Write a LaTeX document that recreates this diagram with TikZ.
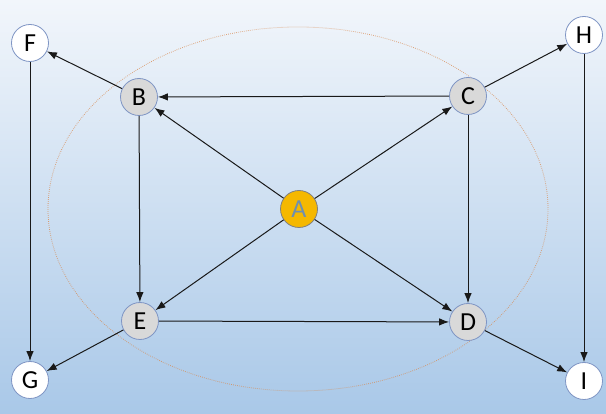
\documentclass[tikz,border=0pt]{standalone}
\usepackage{fontspec}
\setmainfont{Carlito}
\usetikzlibrary{arrows.meta}
\definecolor{bgtop}{HTML}{F2F6FB}
\definecolor{bgbot}{HTML}{A9C8E8}
\definecolor{nodeedge}{HTML}{7F95C4}
\definecolor{grayfill}{HTML}{D9D9D9}
\definecolor{gold}{HTML}{F5B800}
\definecolor{atext}{HTML}{6F8FB0}
\definecolor{ring}{HTML}{D98A50}
\tikzset{
  vtx/.style={circle, draw=nodeedge, line width=0.8pt, minimum size=37pt, inner sep=0pt, font=\fontsize{26}{26}\selectfont},
  outer/.style={vtx, fill=white},
  inner/.style={vtx, fill=grayfill},
  hub/.style={vtx, fill=gold, draw=gray, text=atext},
  edge/.style={draw=black!90, line width=1pt, -{Latex[length=10pt,width=7.5pt]}}
}
\begin{document}
\begin{tikzpicture}[x=1pt,y=-1pt]
\shade[top color=bgtop, bottom color=bgbot] (0,0) rectangle (606,414);
\useasboundingbox (0,0) rectangle (606,414);
\draw[ring, dash pattern=on 0.7pt off 1.3pt, line width=0.8pt, opacity=0.8] (298,209) ellipse [x radius=250, y radius=182];
\node[outer] (F) at (30,43) {F};
\node[inner] (B) at (139,97) {B};
\node[inner] (C) at (468,96) {C};
\node[outer] (H) at (584,35) {H};
\node[hub] (A) at (299,209) {A};
\node[inner] (E) at (140,321) {E};
\node[inner] (D) at (468,322) {D};
\node[outer] (G) at (30,380) {G};
\node[outer] (I) at (584,381) {I};
\draw[edge] (A) -- (B);
\draw[edge] (A) -- (C);
\draw[edge] (A) -- (E);
\draw[edge] (A) -- (D);
\draw[edge] (C) -- (B);
\draw[edge] (B) -- (F);
\draw[edge] (C) -- (H);
\draw[edge] (B) -- (E);
\draw[edge] (C) -- (D);
\draw[edge] (E) -- (D);
\draw[edge] (E) -- (G);
\draw[edge] (D) -- (I);
\draw[edge] (F) -- (G);
\draw[edge] (H) -- (I);
\end{tikzpicture}
\end{document}
